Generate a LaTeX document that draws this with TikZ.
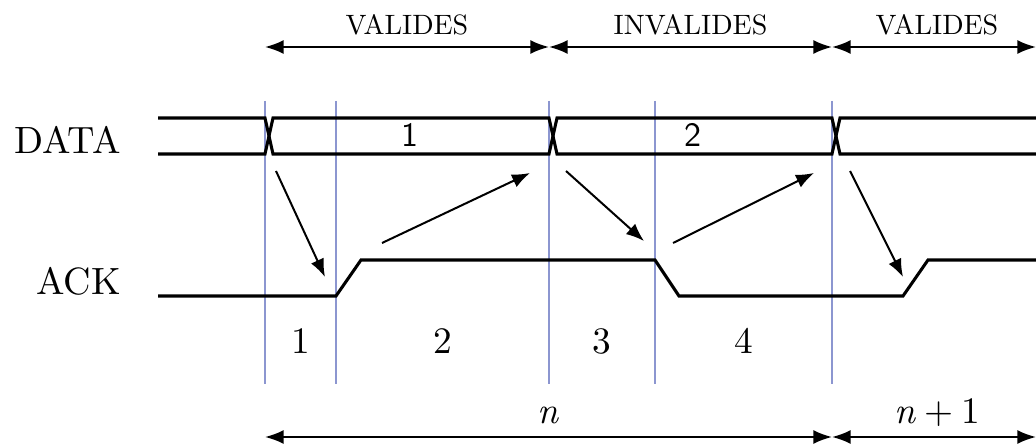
\documentclass[tikz,border=0pt]{standalone}
\usepackage{fontspec}
\setmainfont{lmroman10-regular.otf}[ItalicFont=lmroman10-italic.otf]
\newfontfamily\bussans{lmsans10-regular.otf}
\usetikzlibrary{arrows.meta}
\definecolor{guideblue}{RGB}{140,150,208}
\begin{document}
\begin{tikzpicture}[x=0.75pt,y=-0.75pt,
  sig/.style={line width=2.3pt, line join=miter},
  guide/.style={line width=1.6pt, draw=guideblue},
  cause/.style={line width=1.5pt, -{Latex[length=13.5pt,width=10.5pt]}},
  span/.style={line width=1.5pt, {Latex[length=14pt,width=10.5pt]}-{Latex[length=14pt,width=10.5pt]}},
  big/.style={font=\fontsize{28.5}{34}\selectfont, inner sep=0pt},
  small/.style={font=\fontsize{21}{25}\selectfont, inner sep=0pt, anchor=base},
  busnum/.style={font=\bussans\fontsize{25.5}{30}\selectfont, inner sep=0pt, anchor=base},
  phase/.style={font=\fontsize{28}{34}\selectfont, inner sep=0pt, anchor=base}]
\useasboundingbox (0,0) rectangle (1036,445);

% guide lines
\foreach \x/\n in {265/g0,336/g1,549/g2,655/g3,832/g4}{
  \coordinate (\n t) at (\x,101);
  \coordinate (\n b) at (\x,384);
  \draw[guide] (\n t) -- (\n b);
}

% signal labels
\node[big, anchor=base east] (data) at (121,154) {DATA};
\node[big, anchor=base east] (ack) at (121,295) {ACK};

% DATA bus
\draw[sig] (158,118) -- (265,118) -- (273,154) -- (549,154) -- (557,118) -- (832,118) -- (840,154) -- (1036,154);
\draw[sig] (158,154) -- (265,154) -- (273,118) -- (549,118) -- (557,154) -- (832,154) -- (840,118) -- (1036,118);
\node[busnum] (d1) at (410,147) {1};
\node[busnum] (d2) at (693,147) {2};

% ACK signal
\draw[sig] (158,296) -- (336,296) -- (361,260) -- (655,260) -- (679,296) -- (903,296) -- (928,260) -- (1036,260);

% causal arrows
\coordinate (a1s) at (276,171); \coordinate (a1e) at (325,277);
\coordinate (a2s) at (382,243); \coordinate (a2e) at (530,173);
\coordinate (a3s) at (566,171); \coordinate (a3e) at (644,241);
\coordinate (a4s) at (673,243); \coordinate (a4e) at (814,173);
\coordinate (a5s) at (850,171); \coordinate (a5e) at (903,277);
\draw[cause] (a1s) -- (a1e);
\draw[cause] (a2s) -- (a2e);
\draw[cause] (a3s) -- (a3e);
\draw[cause] (a4s) -- (a4e);
\draw[cause] (a5s) -- (a5e);

% phase numbers
\node[phase] (p1) at (300.5,354) {1};
\node[phase] (p2) at (442.5,354) {2};
\node[phase] (p3) at (602,354) {3};
\node[phase] (p4) at (743.5,354) {4};

% top spans
\coordinate (t0) at (265,47); \coordinate (t1) at (549,47);
\coordinate (t2) at (832,47); \coordinate (t3) at (1036,47);
\draw[span] (t0) -- (t1);
\draw[span] (t1) -- (t2);
\draw[span] (t2) -- (t3);
\node[small] (v1) at (407,35) {VALIDES};
\node[small] (iv) at (690.5,35) {INVALIDES};
\node[small] (v2) at (937,35) {VALIDES};

% bottom spans
\coordinate (b0) at (265,437); \coordinate (b1) at (832,437); \coordinate (b2) at (1036,437);
\draw[span] (b0) -- (b1);
\draw[span] (b1) -- (b2);
\node[phase] (n0) at (548,424) {\textit{n}};
\node[phase] (n1) at (937,424) {\textit{n}\hspace{0.22em}+\hspace{0.22em}1};
\end{tikzpicture}
\end{document}
